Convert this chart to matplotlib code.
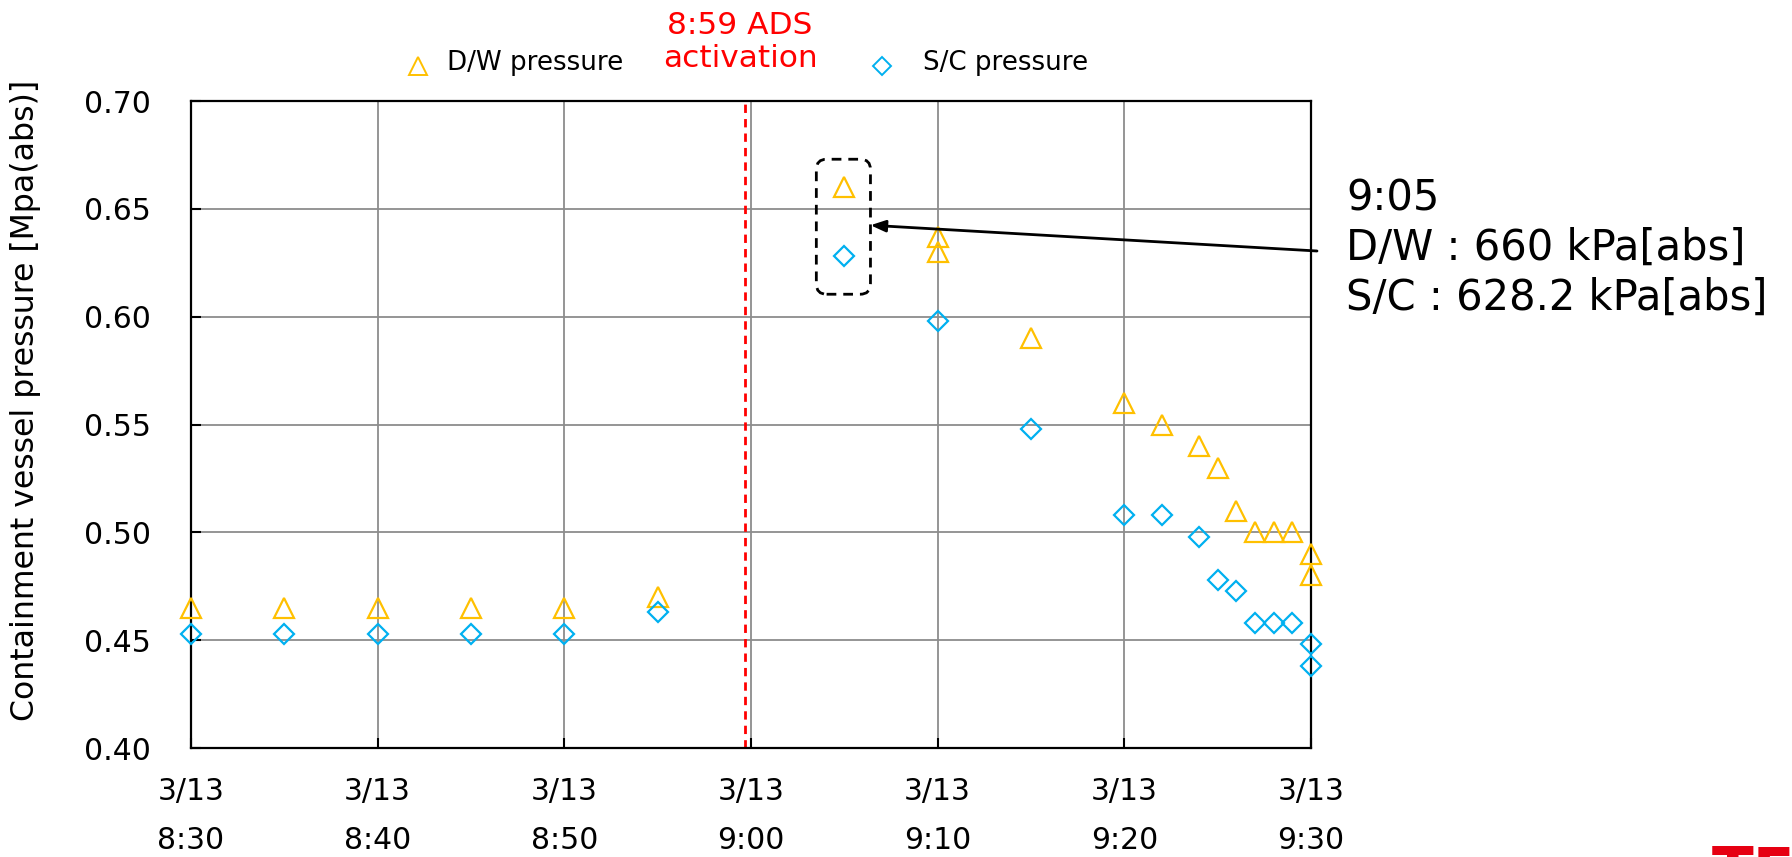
import matplotlib
matplotlib.use("Agg")
import matplotlib.pyplot as plt
from matplotlib.lines import Line2D
from matplotlib.patches import FancyBboxPatch

plt.rcParams['font.family'] = ['DejaVu Sans']

# Time of each reading (3/13) and the measured pressure [MPa abs]
dw_times = ["8:30", "8:35", "8:40", "8:45", "8:50", "8:55", "9:05", "9:10", "9:10",
            "9:15", "9:20", "9:22", "9:24", "9:25", "9:26", "9:27", "9:28", "9:29",
            "9:30", "9:30"]
dw_values = [0.465, 0.465, 0.465, 0.465, 0.465, 0.470, 0.660, 0.637, 0.630,
             0.590, 0.560, 0.550, 0.540, 0.530, 0.510, 0.500, 0.500, 0.500,
             0.490, 0.480]

sc_times = ["8:30", "8:35", "8:40", "8:45", "8:50", "8:55", "9:05", "9:10",
            "9:15", "9:20", "9:22", "9:24", "9:25", "9:26", "9:27", "9:28", "9:29",
            "9:30", "9:30"]
sc_values = [0.453, 0.453, 0.453, 0.453, 0.453, 0.463, 0.6282, 0.598,
             0.548, 0.508, 0.508, 0.498, 0.478, 0.473, 0.458, 0.458, 0.458,
             0.448, 0.438]

tick_times = ["8:30", "8:40", "8:50", "9:00", "9:10", "9:20", "9:30"]
tick_labels = ["3/13\n" + t for t in tick_times]
y_ticks = [0.40, 0.45, 0.50, 0.55, 0.60, 0.65, 0.70]

ads_time = "8:59"
highlight_time = "9:05"


def to_min(t):
    h, m = t.split(":")
    return int(h) * 60 + float(m)


DW_COLOR = "#FFC000"
SC_COLOR = "#00B0F0"

W, H = 1792, 857
fig = plt.figure(figsize=(W / 100, H / 100), dpi=100)
ax = fig.add_axes([191 / W, 1 - 748 / H, 1120 / W, (748 - 101) / H])

x0, x1 = to_min("8:30"), to_min("9:30")
ax.set_xlim(x0, x1)
ax.set_ylim(0.40, 0.70)

ax.grid(True, color="#8c8c8c", lw=1.3, zorder=0)
ax.set_axisbelow(True)

# ADS activation marker line
ax.axvline(to_min(ads_time) + 0.7, color="#FF0000", lw=2, ls=(0, (3, 2.2)), zorder=2)

ax.plot([to_min(t) for t in dw_times], dw_values, ls="none", marker="^",
        ms=14.5, mfc="none", mec=DW_COLOR, mew=1.6, zorder=4, clip_on=False)
ax.plot([to_min(t) for t in sc_times], sc_values, ls="none", marker="D",
        ms=10.3, mfc="none", mec=SC_COLOR, mew=1.6, zorder=5, clip_on=False)

ax.set_xticks([to_min(t) for t in tick_times])
ax.set_xticklabels(tick_labels)
ax.set_yticks(y_ticks)
ax.set_yticklabels([f"{v:.2f}" for v in y_ticks])
ax.tick_params(axis="both", direction="in", length=7, width=1.5, labelsize=21.5,
               colors="black")
ax.tick_params(axis="y", pad=29)
ax.tick_params(axis="x", pad=21)
for lbl in ax.get_xticklabels():
    lbl.set_linespacing(1.85)

for sp in ax.spines.values():
    sp.set_color("black")
    sp.set_linewidth(1.6)

ax.set_ylabel("Containment vessel pressure [Mpa(abs)]", fontsize=22.7)
ax.yaxis.set_label_coords(-0.134, 0.537)

# Dashed rounded box around the 9:05 readings
hx = to_min(highlight_time)
bx0, bx1 = hx - 1.5, hx + 1.4
by0, by1 = 0.6104, 0.673
box = FancyBboxPatch((bx0, by0), bx1 - bx0, by1 - by0,
                     boxstyle="round,pad=0,rounding_size=0.55",
                     mutation_aspect=0.0087, fill=False, ec="black", lw=2,
                     ls=(0, (3.5, 2.5)), transform=ax.transData, zorder=6,
                     clip_on=False)
ax.add_patch(box)

ax.annotate("", xy=(bx1, 0.6424), xycoords="data",
            xytext=(1317, H - 251), textcoords="figure pixels",
            arrowprops=dict(arrowstyle="-|>,head_length=0.9,head_width=0.35",
                            color="black", lw=2, shrinkA=0, shrinkB=0),
            annotation_clip=False, zorder=7)

fig.text(1346 / W, 1 - 248 / H, "9:05\nD/W : 660 kPa[abs]\nS/C : 628.2 kPa[abs]",
         fontsize=30, ha="left", va="center", linespacing=1.22)

# Legend row above the plot
fig.add_artist(Line2D([418 / W], [1 - 66 / H], transform=fig.transFigure, ls="none",
                      marker="^", ms=13, mfc="none", mec=DW_COLOR, mew=1.4))
fig.text(447 / W, 1 - 63 / H, "D/W pressure", fontsize=18.8, ha="left", va="center")
fig.add_artist(Line2D([882 / W], [1 - 66 / H], transform=fig.transFigure, ls="none",
                      marker="D", ms=9.3, mfc="none", mec=SC_COLOR, mew=1.4))
fig.text(923 / W, 1 - 63 / H, "S/C pressure", fontsize=18.8, ha="left", va="center")

fig.text(740 / W, 1 - 42 / H, "8:59 ADS\nactivation", fontsize=22.5, color="#FF0000",
         ha="center", va="center", linespacing=1.2)

# Company logo text at the lower right corner
fig.text(1712 / W, 12 / H, "TEPCO", fontsize=44, fontweight="bold", color="#E60012",
         ha="left", va="top")

fig.savefig("out.png", dpi=100)
